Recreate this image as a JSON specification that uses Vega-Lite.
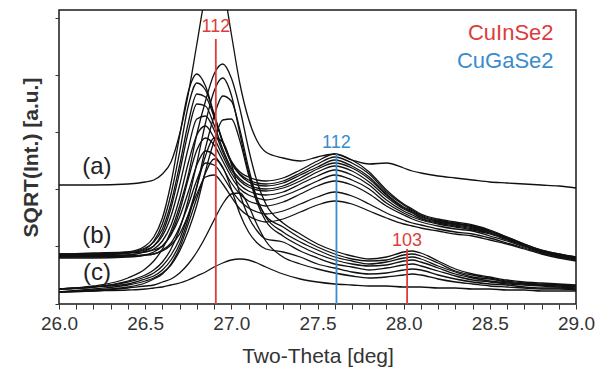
{
  "$schema": "https://vega.github.io/schema/vega-lite/v6.json",
  "width": 517,
  "height": 294,
  "autosize": {"type": "none"},
  "padding": {"left": 59, "top": 10, "right": 29, "bottom": 67},
  "config": {"view": {"stroke": "#1a1a1a", "strokeWidth": 1.5}, "font": "Liberation Sans"},
  "layer": [
    {
      "data": {"values": [
        {"x":26.0,"a":119,"b0":49,"b1":48,"b2":50,"b3":47,"b4":49,"b5":48,"b6":46,"b7":50,"b8":47,"b9":48,"c0":15,"c1":15,"c2":15,"c3":12,"c4":15,"c5":12,"c6":12,"c7":12},
        {"x":26.2,"a":119,"b0":50,"b1":49,"b2":51,"b3":48,"b4":49,"b5":48,"b6":46,"b7":50,"b8":47,"b9":48,"c0":18,"c1":17,"c2":17,"c3":15,"c4":17,"c5":14,"c6":13,"c7":13},
        {"x":26.4,"a":120,"b0":52,"b1":51,"b2":52,"b3":49,"b4":51,"b5":49,"b6":47,"b7":51,"b8":48,"b9":48,"c0":26,"c1":23,"c2":22,"c3":19,"c4":20,"c5":17,"c6":16,"c7":14},
        {"x":26.5,"a":122,"b0":58,"b1":55,"b2":56,"b3":53,"b4":54,"b5":52,"b6":49,"b7":52,"b8":49,"b9":49,"c0":35,"c1":29,"c2":27,"c3":23,"c4":25,"c5":21,"c6":18,"c7":15},
        {"x":26.55,"a":124,"b0":67,"b1":63,"b2":62,"b3":58,"b4":58,"b5":55,"b6":52,"b7":54,"b8":50,"b9":50,"c0":43,"c1":34,"c2":31,"c3":26,"c4":28,"c5":25,"c6":19,"c7":16},
        {"x":26.6,"a":130,"b0":86,"b1":80,"b2":75,"b3":71,"b4":68,"b5":63,"b6":58,"b7":58,"b8":54,"b9":53,"c0":55,"c1":42,"c2":38,"c3":31,"c4":34,"c5":30,"c6":22,"c7":17},
        {"x":26.65,"a":142,"b0":121,"b1":110,"b2":101,"b3":96,"b4":88,"b5":79,"b6":70,"b7":69,"b8":61,"b9":59,"c0":73,"c1":55,"c2":49,"c3":39,"c4":44,"c5":40,"c6":25,"c7":19},
        {"x":26.7,"a":170,"b0":168,"b1":152,"b2":139,"b3":132,"b4":119,"b5":106,"b6":93,"b7":87,"b8":77,"b9":70,"c0":98,"c1":75,"c2":65,"c3":53,"c4":60,"c5":56,"c6":31,"c7":21},
        {"x":26.75,"a":210,"b0":212,"b1":198,"b2":181,"b3":172,"b4":156,"b5":141,"b6":125,"b7":112,"b8":99,"b9":89,"c0":129,"c1":104,"c2":89,"c3":73,"c4":85,"c5":80,"c6":40,"c7":24},
        {"x":26.8,"a":260,"b0":230,"b1":221,"b2":210,"b3":200,"b4":185,"b5":169,"b6":154,"b7":139,"b8":124,"b9":110,"c0":170,"c1":141,"c2":118,"c3":99,"c4":117,"c5":106,"c6":52,"c7":28},
        {"x":26.85,"a":310,"b0":218,"b1":214,"b2":207,"b3":198,"b4":188,"b5":178,"b6":166,"b7":153,"b8":141,"b9":127,"c0":203,"c1":181,"c2":156,"c3":133,"c4":148,"c5":131,"c6":67,"c7":32},
        {"x":26.9,"a":340,"b0":190,"b1":189,"b2":187,"b3":179,"b4":174,"b5":166,"b6":159,"b7":149,"b8":139,"b9":129,"c0":230,"c1":213,"c2":188,"c3":163,"c4":166,"c5":145,"c6":84,"c7":37},
        {"x":26.95,"a":320,"b0":163,"b1":162,"b2":162,"b3":155,"b4":152,"b5":148,"b6":143,"b7":136,"b8":128,"b9":120,"c0":240,"c1":226,"c2":208,"c3":184,"c4":162,"c5":137,"c6":100,"c7":41},
        {"x":27.0,"a":270,"b0":143,"b1":142,"b2":141,"b3":136,"b4":134,"b5":131,"b6":127,"b7":121,"b8":114,"b9":107,"c0":226,"c1":209,"c2":203,"c3":185,"c4":140,"c5":115,"c6":110,"c7":44},
        {"x":27.05,"a":220,"b0":132,"b1":130,"b2":129,"b3":125,"b4":123,"b5":119,"b6":115,"b7":110,"b8":103,"b9":95,"c0":195,"c1":170,"c2":174,"c3":163,"c4":110,"c5":90,"c6":111,"c7":45},
        {"x":27.1,"a":185,"b0":127,"b1":124,"b2":122,"b3":119,"b4":117,"b5":113,"b6":109,"b7":103,"b8":96,"b9":88,"c0":155,"c1":132,"c2":136,"c3":129,"c4":87,"c5":72,"c6":98,"c7":44},
        {"x":27.15,"a":163,"b0":124,"b1":121,"b2":119,"b3":116,"b4":114,"b5":110,"b6":106,"b7":100,"b8":92,"b9":84,"c0":122,"c1":104,"c2":105,"c3":101,"c4":73,"c5":61,"c6":79,"c7":41},
        {"x":27.2,"a":152,"b0":123,"b1":120,"b2":118,"b3":115,"b4":113,"b5":109,"b6":104,"b7":98,"b8":90,"b9":82,"c0":100,"c1":88,"c2":87,"c3":83,"c4":65,"c5":55,"c6":63,"c7":37},
        {"x":27.3,"a":146,"b0":126,"b1":123,"b2":121,"b3":118,"b4":116,"b5":112,"b6":108,"b7":102,"b8":93,"b9":85,"c0":81,"c1":77,"c2":72,"c3":68,"c4":62,"c5":52,"c6":47,"c7":30},
        {"x":27.4,"a":143,"b0":134,"b1":131,"b2":129,"b3":126,"b4":123,"b5":120,"b6":115,"b7":110,"b8":100,"b9":92,"c0":70,"c1":66,"c2":62,"c3":58,"c4":53,"c5":47,"c6":40,"c7":25},
        {"x":27.5,"a":147,"b0":143,"b1":140,"b2":137,"b3":135,"b4":132,"b5":128,"b6":123,"b7":118,"b8":107,"b9":99,"c0":60,"c1":57,"c2":54,"c3":50,"c4":46,"c5":40,"c6":35,"c7":22},
        {"x":27.6,"a":150,"b0":150,"b1":147,"b2":144,"b3":141,"b4":138,"b5":134,"b6":129,"b7":123,"b8":112,"b9":103,"c0":53,"c1":50,"c2":47,"c3":44,"c4":40,"c5":36,"c6":31,"c7":20},
        {"x":27.7,"a":144,"b0":144,"b1":141,"b2":138,"b3":136,"b4":133,"b5":129,"b6":124,"b7":119,"b8":108,"b9":100,"c0":48,"c1":45,"c2":43,"c3":40,"c4":37,"c5":32,"c6":28,"c7":19},
        {"x":27.8,"a":140,"b0":132,"b1":130,"b2":127,"b3":125,"b4":122,"b5":119,"b6":115,"b7":110,"b8":100,"b9":93,"c0":45,"c1":43,"c2":40,"c3":38,"c4":34,"c5":30,"c6":26,"c7":18},
        {"x":27.9,"a":141,"b0":114,"b1":112,"b2":110,"b3":109,"b4":107,"b5":104,"b6":101,"b7":98,"b8":91,"b9":86,"c0":47,"c1":44,"c2":42,"c3":39,"c4":36,"c5":31,"c6":27,"c7":18},
        {"x":28.0,"a":136,"b0":100,"b1":99,"b2":97,"b3":96,"b4":95,"b5":93,"b6":91,"b7":89,"b8":84,"b9":80,"c0":52,"c1":49,"c2":46,"c3":43,"c4":39,"c5":34,"c6":29,"c7":17},
        {"x":28.05,"a":133,"b0":95,"b1":94,"b2":93,"b3":92,"b4":91,"b5":89,"b6":87,"b7":85,"b8":81,"b9":78,"c0":53,"c1":50,"c2":47,"c3":44,"c4":40,"c5":35,"c6":30,"c7":17},
        {"x":28.1,"a":131,"b0":90,"b1":89,"b2":88,"b3":87,"b4":86,"b5":85,"b6":84,"b7":82,"b8":79,"b9":76,"c0":51,"c1":48,"c2":45,"c3":42,"c4":38,"c5":34,"c6":29,"c7":17},
        {"x":28.2,"a":128,"b0":85,"b1":84,"b2":83,"b3":83,"b4":82,"b5":81,"b6":80,"b7":78,"b8":75,"b9":73,"c0":43,"c1":41,"c2":38,"c3":36,"c4":33,"c5":29,"c6":25,"c7":16},
        {"x":28.3,"a":126,"b0":82,"b1":81,"b2":80,"b3":80,"b4":79,"b5":78,"b6":77,"b7":75,"b8":72,"b9":70,"c0":35,"c1":33,"c2":32,"c3":30,"c4":28,"c5":25,"c6":22,"c7":16},
        {"x":28.4,"a":124,"b0":79,"b1":78,"b2":78,"b3":77,"b4":76,"b5":75,"b6":74,"b7":73,"b8":70,"b9":68,"c0":30,"c1":29,"c2":27,"c3":26,"c4":24,"c5":22,"c6":20,"c7":15},
        {"x":28.5,"a":122,"b0":74,"b1":73,"b2":73,"b3":72,"b4":71,"b5":71,"b6":70,"b7":68,"b8":66,"b9":64,"c0":27,"c1":26,"c2":25,"c3":23,"c4":22,"c5":20,"c6":18,"c7":15},
        {"x":28.6,"a":121,"b0":67,"b1":67,"b2":66,"b3":66,"b4":65,"b5":65,"b6":64,"b7":63,"b8":61,"b9":60,"c0":24,"c1":23,"c2":22,"c3":21,"c4":20,"c5":19,"c6":17,"c7":14},
        {"x":28.7,"a":120,"b0":60,"b1":60,"b2":59,"b3":59,"b4":59,"b5":58,"b6":58,"b7":57,"b8":56,"b9":55,"c0":22,"c1":21,"c2":20,"c3":20,"c4":19,"c5":17,"c6":16,"c7":14},
        {"x":28.8,"a":119,"b0":54,"b1":54,"b2":53,"b3":53,"b4":53,"b5":53,"b6":52,"b7":52,"b8":51,"b9":50,"c0":21,"c1":20,"c2":19,"c3":19,"c4":18,"c5":16,"c6":15,"c7":13},
        {"x":28.9,"a":118,"b0":50,"b1":50,"b2":49,"b3":49,"b4":49,"b5":49,"b6":48,"b7":48,"b8":47,"b9":46,"c0":20,"c1":19,"c2":19,"c3":18,"c4":17,"c5":16,"c6":15,"c7":13},
        {"x":29.0,"a":116,"b0":47,"b1":47,"b2":46,"b3":46,"b4":46,"b5":46,"b6":45,"b7":45,"b8":44,"b9":43,"c0":19,"c1":18,"c2":18,"c3":17,"c4":16,"c5":15,"c6":14,"c7":13}
      ]},
      "transform": [{"fold": ["a","b0","b1","b2","b3","b4","b5","b6","b7","b8","b9","c0","c1","c2","c3","c4","c5","c6","c7"], "as": ["series","h"]}],
      "mark": {"type": "line", "interpolate": "monotone", "clip": true, "color": "#111111", "strokeWidth": 1.3},
      "encoding": {
        "x": {"field": "x", "type": "quantitative",
          "scale": {"domain": [26, 29], "nice": false, "zero": false},
          "axis": {"values": [26.0,26.1,26.2,26.3,26.4,26.5,26.6,26.7,26.8,26.9,27.0,27.1,27.2,27.3,27.4,27.5,27.6,27.7,27.8,27.9,28.0,28.1,28.2,28.3,28.4,28.5,28.6,28.7,28.8,28.9,29.0],
            "tickCount": 200,
            "labelExpr": "(round(datum.value*10) % 5 == 0) ? format(datum.value, '.1f') : ''",
            "labelOverlap": false, "labelFlush": false, "labelFontSize": 19, "labelColor": "#333333", "labelPadding": 5,
            "tickSize": 5, "tickColor": "#333333", "grid": false, "domain": false,
            "title": "Two-Theta [deg]", "titleFontSize": 21, "titleFontWeight": "normal", "titleColor": "#333333", "titlePadding": 12}},
        "y": {"field": "h", "type": "quantitative",
          "scale": {"domain": [0, 294], "nice": false, "zero": false},
          "axis": {"values": [0, 58, 115, 172, 229, 286], "tickCount": 50, "labels": false, "tickSize": 4, "tickColor": "#333333", "grid": false, "domain": false,
            "title": "SQRT(Int.) [a.u.]", "titleFontSize": 21, "titleFontWeight": "bold", "titleColor": "#333333", "titlePadding": 13}},
        "detail": {"field": "series"}
      }
    },
    {
      "data": {"values": [
        {"x": 26.91, "y0": 0, "y1": 265, "c": "CuInSe2"},
        {"x": 27.61, "y0": 0, "y1": 150, "c": "CuGaSe2"},
        {"x": 28.02, "y0": 0, "y1": 55, "c": "CuInSe2"}
      ]},
      "mark": {"type": "rule", "strokeWidth": 1.8},
      "encoding": {
        "x": {"field": "x", "type": "quantitative"},
        "y": {"field": "y0", "type": "quantitative"},
        "y2": {"field": "y1"},
        "color": {"field": "c", "type": "nominal", "scale": {"domain": ["CuInSe2", "CuGaSe2"], "range": ["#dd3c3c", "#3a8ccc"]}, "legend": null}
      }
    },
    {
      "data": {"values": [
        {"x": 26.91, "y": 277, "t": "112", "c": "CuInSe2"},
        {"x": 27.61, "y": 161, "t": "112", "c": "CuGaSe2"},
        {"x": 28.02, "y": 63, "t": "103", "c": "CuInSe2"}
      ]},
      "mark": {"type": "text", "fontSize": 18, "align": "center", "baseline": "middle"},
      "encoding": {
        "x": {"field": "x", "type": "quantitative"},
        "y": {"field": "y", "type": "quantitative"},
        "text": {"field": "t"},
        "color": {"field": "c", "type": "nominal", "scale": {"domain": ["CuInSe2", "CuGaSe2"], "range": ["#dd3c3c", "#3a8ccc"]}, "legend": null}
      }
    },
    {
      "data": {"values": [
        {"x": 28.87, "y": 271, "t": "CuInSe2", "c": "CuInSe2"},
        {"x": 28.87, "y": 243, "t": "CuGaSe2", "c": "CuGaSe2"}
      ]},
      "mark": {"type": "text", "fontSize": 22, "align": "right", "baseline": "middle"},
      "encoding": {
        "x": {"field": "x", "type": "quantitative"},
        "y": {"field": "y", "type": "quantitative"},
        "text": {"field": "t"},
        "color": {"field": "c", "type": "nominal", "scale": {"domain": ["CuInSe2", "CuGaSe2"], "range": ["#dd3c3c", "#3a8ccc"]}, "legend": null}
      }
    },
    {
      "data": {"values": [
        {"x": 26.22, "y": 137, "t": "(a)"},
        {"x": 26.22, "y": 68, "t": "(b)"},
        {"x": 26.22, "y": 31, "t": "(c)"}
      ]},
      "mark": {"type": "text", "fontSize": 24, "align": "center", "baseline": "middle", "color": "#222222"},
      "encoding": {
        "x": {"field": "x", "type": "quantitative"},
        "y": {"field": "y", "type": "quantitative"},
        "text": {"field": "t"}
      }
    }
  ]
}
